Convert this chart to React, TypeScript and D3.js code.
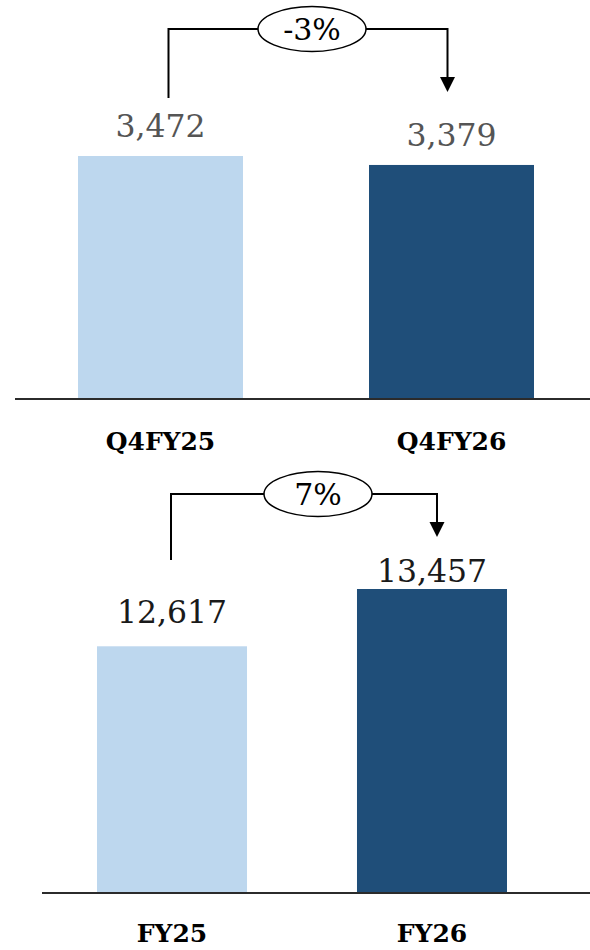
import { useEffect } from "react";
import * as d3 from "d3";

// Quarter comparison
const quarterCats = ["Q4FY25", "Q4FY26"];
const quarterValues = [3472, 3379];
const quarterChange = "-3%";

// Full-year comparison
const yearCats = ["FY25", "FY26"];
const yearValues = [12617, 13457];
const yearChange = "7%";

const W = 590;
const H = 950;
const SERIF = "DejaVu Serif, serif";
const COLORS = ["#BDD7EE", "#1F4E79"];

interface PanelProps {
  cats: string[];
  values: number[];
  change: string;
  yMin: number;
  xRange: [number, number];
  pad: number;
  base: number;
  topY: number; // y of the largest bar's top
  axisX0: number;
  labelGap: number[];
  labelFill: string;
  catY: number;
  bracketY: number;
  leftEnd: number;
  rightEnd: number;
  bracketDx: [number, number];
  ellipseX: number;
}

function Panel(p: PanelProps) {
  const x = d3.scaleBand<string>().domain(p.cats).range(p.xRange).paddingInner(p.pad);
  const y = d3
    .scaleLinear()
    .domain([p.yMin, d3.max(p.values) as number])
    .range([p.base, p.topY]);
  const fmt = d3.format(",");
  const cx = (c: string) => (x(c) as number) + x.bandwidth() / 2;

  const lx = cx(p.cats[0]) + p.bracketDx[0];
  const rx = cx(p.cats[1]) + p.bracketDx[1];
  const arrowH = 15;
  const arrowW = 15;

  return (
    <g>
      {p.values.map((v, i) => (
        <rect
          key={p.cats[i]}
          x={x(p.cats[i])}
          y={y(v)}
          width={x.bandwidth()}
          height={p.base - y(v)}
          fill={COLORS[i]}
        />
      ))}
      <line x1={p.axisX0} x2={W} y1={p.base} y2={p.base} stroke="#2b2b2b" strokeWidth={2} />
      {p.values.map((v, i) => (
        <text
          key={"v" + i}
          x={cx(p.cats[i])}
          y={y(v) - p.labelGap[i]}
          textAnchor="middle"
          fontFamily={SERIF}
          fontSize={31.5}
          fill={p.labelFill}
        >
          {fmt(v)}
        </text>
      ))}
      {p.cats.map((c) => (
        <text
          key={c}
          x={cx(c)}
          y={p.catY}
          textAnchor="middle"
          fontFamily={SERIF}
          fontWeight="bold"
          fontSize={25}
          fill="#000"
        >
          {c}
        </text>
      ))}
      {/* change bracket */}
      <path
        d={`M${lx},${p.leftEnd}V${p.bracketY}H${rx}V${p.rightEnd - arrowH}`}
        fill="none"
        stroke="#000"
        strokeWidth={2}
      />
      <path
        d={`M${rx - arrowW / 2},${p.rightEnd - arrowH}L${rx + arrowW / 2},${p.rightEnd - arrowH}L${rx},${p.rightEnd}Z`}
        fill="#000"
      />
      <ellipse cx={p.ellipseX} cy={p.bracketY} rx={54} ry={22.5} fill="#fff" stroke="#000" strokeWidth={1.5} />
      <text
        x={p.ellipseX}
        y={p.bracketY + 10.5}
        textAnchor="middle"
        fontFamily={SERIF}
        fontSize={30}
        fill="#000"
      >
        {p.change}
      </text>
    </g>
  );
}

export default function App() {
  useEffect(() => {
    document.body.style.margin = "0";
  }, []);

  return (
    <svg width={W} height={H} viewBox={`0 0 ${W} ${H}`} style={{ display: "block", background: "#fff" }}>
      <Panel
        cats={quarterCats}
        values={quarterValues}
        change={quarterChange}
        yMin={950}
        xRange={[78, 534]}
        pad={0.433}
        base={399}
        topY={156}
        axisX0={15}
        labelGap={[19, 19]}
        labelFill="#555"
        catY={450}
        bracketY={29}
        leftEnd={98}
        rightEnd={92}
        bracketDx={[8, -4]}
        ellipseX={312}
      />
      <Panel
        cats={yearCats}
        values={yearValues}
        change={yearChange}
        yMin={9000}
        xRange={[97, 507]}
        pad={0.423}
        base={893}
        topY={589}
        axisX0={42}
        labelGap={[23, 7]}
        labelFill="#1a1a1a"
        catY={942}
        bracketY={494}
        leftEnd={560}
        rightEnd={537}
        bracketDx={[-1, 5]}
        ellipseX={318}
      />
    </svg>
  );
}
